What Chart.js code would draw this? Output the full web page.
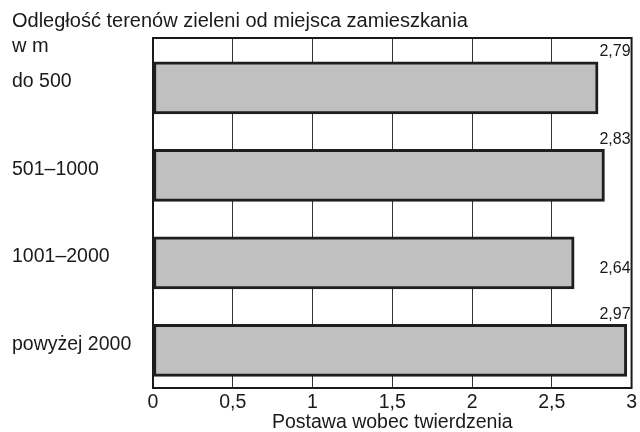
<!DOCTYPE html>
<html>
<head>
<meta charset="utf-8">
<script src="https://cdn.jsdelivr.net/npm/chart.js@4/dist/chart.umd.min.js"></script>
<style>
  body { margin: 0; background: #fff; }
</style>
</head>
<body>
<canvas id="chart" width="640" height="432"></canvas>
<script>
// Chart data
const titleLines = ['Odległość terenów zieleni od miejsca zamieszkania', 'w m'];
const categories = ['do 500', '501–1000', '1001–2000', 'powyżej 2000'];
const values = [2.79, 2.83, 2.64, 2.97];
const xTicks = [0, 0.5, 1, 1.5, 2, 2.5, 3];
const xTitle = 'Postawa wobec twierdzenia';

const FONT = '"Liberation Sans", Arial, sans-serif';
const INK = '#1a1a1a';

// Polish decimal comma
function fmt(v) {
    return String(v).replace('.', ',');
}

// Title at the top-left, second line sits beside the plot frame
const titlePlugin = {
    id: 'titleLines',
    afterDraw(chart) {
        const ctx = chart.ctx;
        const top = chart.chartArea.top;
        ctx.save();
        ctx.font = '20px ' + FONT;
        ctx.fillStyle = INK;
        ctx.textAlign = 'left';
        ctx.textBaseline = 'middle';
        ctx.fillText(titleLines[0], 12, top - 17);
        ctx.fillText(titleLines[1], 12, top + 8);
        ctx.restore();
    }
};

// Box around the plot area
const framePlugin = {
    id: 'frame',
    beforeDatasetsDraw(chart) {
        const {ctx, chartArea: a} = chart;
        ctx.save();
        ctx.strokeStyle = INK;
        ctx.lineWidth = 2;
        ctx.strokeRect(a.left, a.top, a.right - a.left, a.bottom - a.top);
        ctx.restore();
    }
};

// Value labels: beside the bar if there is room, otherwise above it at the right edge
const valuePlugin = {
    id: 'values',
    afterDatasetsDraw(chart) {
        const {ctx, chartArea: a} = chart;
        const meta = chart.getDatasetMeta(0);
        ctx.save();
        ctx.font = '16px ' + FONT;
        ctx.fillStyle = INK;
        ctx.textAlign = 'right';
        meta.data.forEach((bar, i) => {
            const text = fmt(values[i]);
            const w = ctx.measureText(text).width;
            if (a.right - bar.x >= w + 10) {
                ctx.textBaseline = 'middle';
                ctx.fillText(text, a.right - 1, bar.y + 6);
            } else {
                ctx.textBaseline = 'bottom';
                ctx.fillText(text, a.right - 1, bar.y - bar.height / 2 - 2);
            }
        });
        ctx.restore();
    }
};

const ctx = document.getElementById('chart').getContext('2d');
new Chart(ctx, {
    type: 'bar',
    data: {
        labels: categories,
        datasets: [{
            data: values.map((v, i) => ({ x: v, y: i })),
            yAxisID: 'yb',
            backgroundColor: '#c0c0c0',
            borderColor: '#1e1e1e',
            borderWidth: 3,
            borderSkipped: false,
            barThickness: 52
        }]
    },
    options: {
        indexAxis: 'y',
        responsive: false,
        animation: false,
        layout: { padding: { top: 38, left: 12, right: 7, bottom: 0 } },
        plugins: {
            legend: { display: false },
            tooltip: { enabled: false }
        },
        scales: {
            x: {
                type: 'linear',
                min: 0,
                max: 3,
                afterBuildTicks(scale) {
                    scale.ticks = xTicks.map(v => ({ value: v }));
                },
                afterFit(scale) {
                    scale.height = 44;
                },
                grid: { color: '#333', lineWidth: 1, drawTicks: false },
                border: { display: false },
                ticks: {
                    callback: v => fmt(v),
                    color: INK,
                    font: { family: FONT, size: 19.5 },
                    padding: 3,
                    maxRotation: 0
                },
                title: {
                    display: true,
                    text: xTitle,
                    color: INK,
                    font: { family: FONT, size: 19.5, lineHeight: 1.0 },
                    padding: 0
                }
            },
            y: {
                type: 'category',
                position: 'left',
                offset: true,
                grid: { display: false, drawTicks: false },
                border: { display: false },
                afterFit(scale) {
                    scale.width = 141;
                },
                ticks: {
                    crossAlign: 'far',
                    color: INK,
                    font: { family: FONT, size: 19.5 },
                    padding: 0
                }
            },
            yb: {
                type: 'linear',
                display: false,
                offset: false,
                reverse: true,
                min: -0.57,
                max: 3.43
            }
        }
    },
    plugins: [titlePlugin, framePlugin, valuePlugin]
});
</script>
</body>
</html>
